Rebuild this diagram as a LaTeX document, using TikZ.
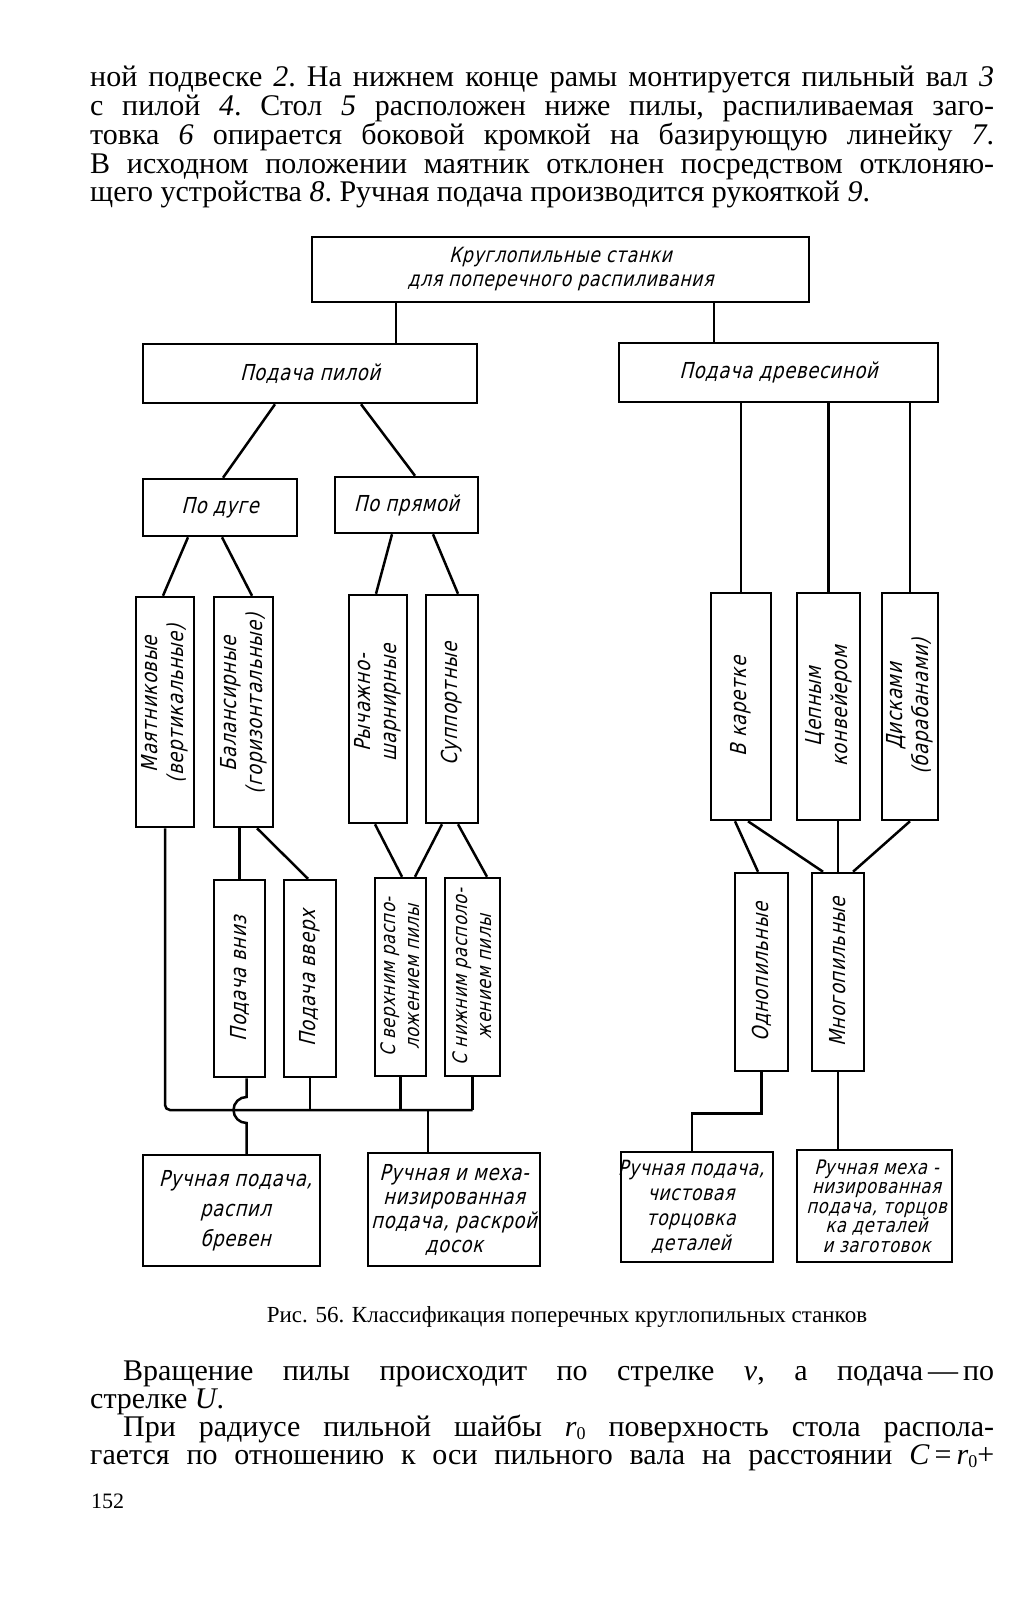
\documentclass[tikz,border=0pt]{standalone}
\usepackage{fontspec}
\setmainfont{Liberation Serif}
\newfontfamily\draftfont[FakeSlant=0.25,FakeStretch=0.82,LetterSpace=3]{DejaVu Sans}
\usetikzlibrary{calc,positioning}
\newcommand{\draft}{\draftfont\fontsize{22pt}{26pt}\selectfont}
\newcommand{\bodytxt}{\frenchspacing\fontsize{30pt}{28.7pt}\selectfont}
\newcommand{\sub}[1]{\raisebox{-3pt}{\fontsize{18pt}{18pt}\selectfont #1}}

\tikzset{
  blk/.style={draw, line width=2.5pt, inner sep=0pt, font=\draft},
  vtxt/.style={rotate=90, align=center, inner sep=0pt, font=\draft},
  htxt/.style={align=center, inner sep=0pt, font=\draft},
  conn/.style={line width=2.5pt},
  txtline/.style={anchor=base west, inner sep=0pt, font=\bodytxt},
}

\begin{document}
\begin{tikzpicture}[x=1pt, y=-1pt]
\useasboundingbox (0,0) rectangle (1031,1600);
\fill[white] (0,0) rectangle (1031,1600);

% text above the figure
\node[txtline] (p1) at (90,87) {\makebox[904pt][s]{ной подвеске \textit{2}. На нижнем конце рамы монтируется пильный вал \textit{3}}};
\node[txtline] (p2) at (90,116) {\makebox[904pt][s]{с пилой \textit{4}. Стол \textit{5} расположен ниже пилы, распиливаемая заго-}};
\node[txtline] (p3) at (90,145) {\makebox[904pt][s]{товка \textit{6} опирается боковой кромкой на базирующую линейку \textit{7}.}};
\node[txtline] (p4) at (90,173) {\makebox[904pt][s]{В исходном положении маятник отклонен посредством отклоняю-}};
\node[txtline] (p5) at (90,201) {щего устройства \textit{8}. Ручная подача производится рукояткой \textit{9}.};

% classification boxes
\node[blk, minimum width=497pt, minimum height=65pt] (T) at (560.5,269.5)
  {\fontsize{21pt}{24pt}\selectfont\begin{tabular}{@{}c@{}}Круглопильные станки\\для поперечного распиливания\end{tabular}};
\node[blk, minimum width=334pt, minimum height=59pt] (A) at (310,373.5) {Подача пилой};
\node[blk, minimum width=319pt, minimum height=59pt] (B) at (778.5,372.5) {Подача древесиной};
\node[blk, minimum width=154pt, minimum height=57pt] (C) at (220,507.5) {По дуге};
\node[blk, minimum width=143pt, minimum height=56pt] (D) at (406.5,505) {По прямой};

\node[blk, minimum width=58pt, minimum height=230pt] (E) at (165,712) {};
\node[blk, minimum width=59pt, minimum height=230pt] (F) at (243.5,712) {};
\node[blk, minimum width=58pt, minimum height=228pt] (G) at (378,709) {};
\node[blk, minimum width=52pt, minimum height=228pt] (H) at (452,709) {};
\node[blk, minimum width=60pt, minimum height=227pt] (I) at (741,706.5) {};
\node[blk, minimum width=63pt, minimum height=227pt] (J) at (828.5,706.5) {};
\node[blk, minimum width=56pt, minimum height=227pt] (K) at (910,706.5) {};
\node[vtxt] (Et) at ([yshift=8pt]E) {Маятниковые\\(вертикальные)};
\node[vtxt] (Ft) at ([yshift=8pt]F) {Балансирные\\(горизонтальные)};
\node[vtxt] (Gt) at ([yshift=6pt]G) {Рычажно-\\шарнирные};
\node[vtxt] (Ht) at ([yshift=5pt]H) {Суппортные};
\node[vtxt] (It) at (I) {В каретке};
\node[vtxt] (Jt) at (J) {Цепным\\конвейером};
\node[vtxt] (Kt) at (K) {Дисками\\(барабанами)};

\node[blk, minimum width=51pt, minimum height=197pt] (L) at (239.5,978.5) {};
\node[blk, minimum width=52pt, minimum height=197pt] (M) at (310,978.5) {};
\node[blk, minimum width=51pt, minimum height=198pt] (N) at (400.5,977) {};
\node[blk, minimum width=55pt, minimum height=198pt] (O) at (472.5,977) {};
\node[blk, minimum width=53pt, minimum height=198pt] (P) at (761.5,972) {};
\node[blk, minimum width=52pt, minimum height=198pt] (Q) at (838,972) {};
\node[vtxt] (Lt) at (L) {Подача вниз};
\node[vtxt] (Mt) at (M) {Подача вверх};
\node[vtxt, font=\draftfont\fontsize{20pt}{24pt}\selectfont] (Nt) at (N) {С верхним распо-\\ложением пилы};
\node[vtxt, font=\draftfont\fontsize{20pt}{24pt}\selectfont] (Ot) at (O) {С нижним располо-\\жением пилы};
\node[vtxt] (Pt) at (P) {Однопильные};
\node[vtxt] (Qt) at (Q) {Многопильные};

\node[blk, minimum width=177pt, minimum height=111pt] (R) at (231.5,1210.5) {};
\node[blk, minimum width=172pt, minimum height=113pt] (S) at (454,1209.5) {};
\node[blk, minimum width=152pt, minimum height=110pt] (U) at (697,1207) {};
\node[blk, minimum width=155pt, minimum height=112pt] (V) at (874.5,1206) {};
\node[htxt, font=\draftfont\fontsize{22pt}{30pt}\selectfont] (Rt) at ([xshift=4pt]R) {Ручная подача,\\распил\\бревен};
\node[htxt, font=\draftfont\fontsize{22pt}{24pt}\selectfont] (St) at (S) {Ручная и меха-\\низированная\\подача, раскрой\\досок};
\node[htxt, font=\draftfont\fontsize{21pt}{25pt}\selectfont] (Ut) at ([xshift=-6pt]U) {Ручная подача,\\чистовая\\торцовка\\деталей};
\node[htxt, font=\draftfont\fontsize{20pt}{19.5pt}\selectfont] (Vt) at ([xshift=2pt]V) {Ручная меха -\\низированная\\подача, торцов\\ка деталей\\и заготовок};

% connectors, saw feed side
\draw[conn] ([xshift=-164.5pt]T.south) -- ([xshift=86pt]A.north);
\draw[conn] ([xshift=153.5pt]T.south) -- ([xshift=-64.5pt]B.north);
\draw[conn] ([xshift=-35pt]A.south) -- ([xshift=3pt]C.north);
\draw[conn] ([xshift=51pt]A.south) -- ([xshift=8.5pt]D.north);
\draw[conn] ([xshift=-32pt]C.south) -- ([xshift=-2pt]E.north);
\draw[conn] ([xshift=2pt]C.south) -- ([xshift=8.5pt]F.north);
\draw[conn] ([xshift=-14.5pt]D.south) -- ([xshift=-2pt]G.north);
\draw[conn] ([xshift=26.5pt]D.south) -- ([xshift=6pt]H.north);
\draw[conn] (F.south -| L.north) -- (L.north);
\draw[conn] ([xshift=13.5pt]F.south) -- ([xshift=-2pt]M.north);
\draw[conn] ([xshift=-3pt]G.south) -- ([xshift=1.5pt]N.north);
\draw[conn] ([xshift=-10pt]H.south) -- ([xshift=14.5pt]N.north);
\draw[conn] ([xshift=6pt]H.south) -- ([xshift=14.5pt]O.north);

% collecting line with the jump
\coordinate (bus) at (0,1110);
\coordinate (jmp) at (246.5,1110);
\coordinate (sIn) at ([xshift=-26pt]S.north);
\draw[conn, rounded corners=5pt] (E.south) |- (O.south |- bus);
\draw[conn] (M.south) -- (M.south |- bus);
\draw[conn] (N.south) -- (N.south |- bus);
\draw[conn] (O.south) -- (O.south |- bus);
\draw[conn] ([xshift=7pt]L.south) -- ([yshift=13pt]jmp) arc[start angle=90, end angle=270, radius=13pt] -- (jmp |- R.north);
\draw[conn] (sIn |- bus) -- (sIn);

% connectors, wood feed side
\draw[conn] (B.south -| I.north) -- (I.north);
\draw[conn] (B.south -| J.north) -- (J.north);
\draw[conn] (B.south -| K.north) -- (K.north);
\draw[conn] ([xshift=-6pt]I.south) -- ([xshift=-3.5pt]P.north);
\draw[conn] ([xshift=7pt]I.south) -- ([xshift=-15pt]Q.north);
\draw[conn] (J.south -| Q.north) -- (Q.north);
\draw[conn] (K.south) -- ([xshift=15pt]Q.north);
\coordinate (uIn) at ([xshift=-5pt]U.north);
\draw[conn] (P.south) -- ++(0,41) -| (uIn);
\draw[conn] (Q.south) -- (Q.south |- V.north);

% caption and text below
\node[anchor=base, inner sep=0pt, font=\fontsize{23pt}{26pt}\selectfont] (cap) at (567,1322) {Рис. 56. Классификация поперечных круглопильных станков};
\node[txtline] (q1) at (123,1380) {\makebox[871pt][s]{Вращение пилы происходит по стрелке \textit{v}, а подача\,—\,по}};
\node[txtline] (q2) at (90,1408) {стрелке \textit{U}.};
\node[txtline] (q3) at (123,1436) {\makebox[871pt][s]{При радиусе пильной шайбы \textit{r}\sub{0} поверхность стола распола-}};
\node[txtline] (q4) at (90,1464) {\makebox[904pt][s]{гается по отношению к оси пильного вала на расстоянии \textit{C}\,=\,\textit{r}\sub{0}+}};
\node[anchor=base west, inner sep=0pt, font=\fontsize{22pt}{26pt}\selectfont] (pg) at (91,1508) {152};
\end{tikzpicture}
\end{document}
